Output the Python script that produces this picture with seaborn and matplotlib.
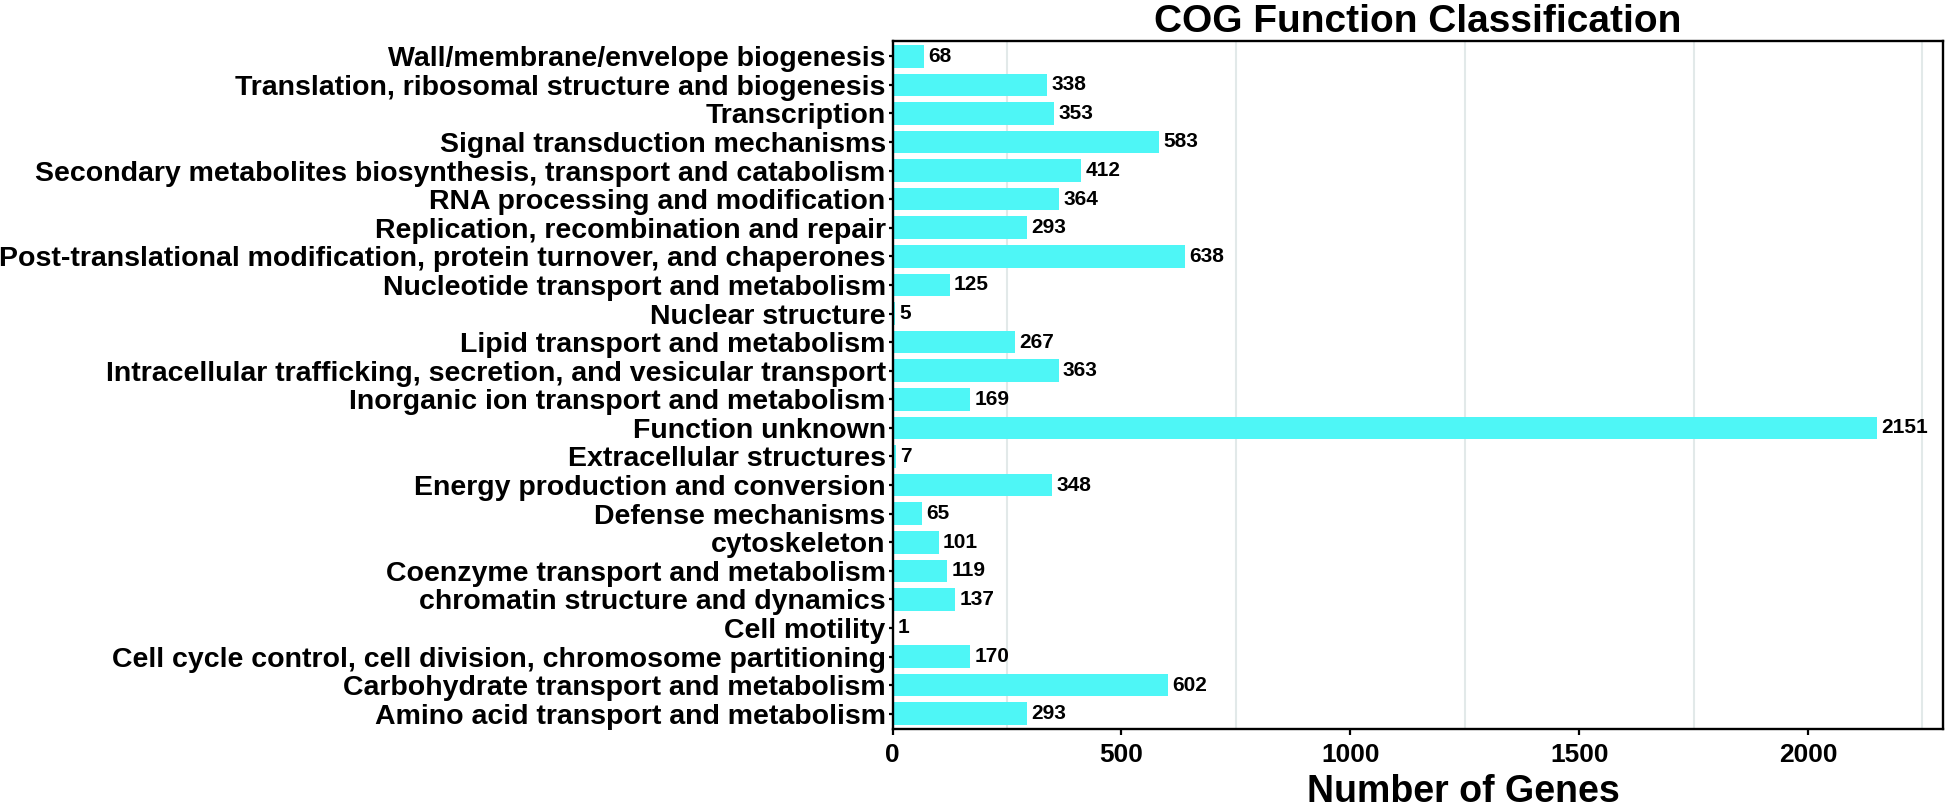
import pandas as pd
import matplotlib.pyplot as plt
import seaborn as sns
from matplotlib.ticker import MultipleLocator

# --- Data (top to bottom as shown) ---
categories = [
    "Wall/membrane/envelope biogenesis",
    "Translation, ribosomal structure and biogenesis",
    "Transcription",
    "Signal transduction mechanisms",
    "Secondary metabolites biosynthesis, transport and catabolism",
    "RNA processing and modification",
    "Replication, recombination and repair",
    "Post-translational modification, protein turnover, and chaperones",
    "Nucleotide transport and metabolism",
    "Nuclear structure",
    "Lipid transport and metabolism",
    "Intracellular trafficking, secretion, and vesicular transport",
    "Inorganic ion transport and metabolism",
    "Function unknown",
    "Extracellular structures",
    "Energy production and conversion",
    "Defense mechanisms",
    "cytoskeleton",
    "Coenzyme transport and metabolism",
    "chromatin structure and dynamics",
    "Cell motility",
    "Cell cycle control, cell division, chromosome partitioning",
    "Carbohydrate transport and metabolism",
    "Amino acid transport and metabolism",
]
gene_counts = [68, 338, 353, 583, 412, 364, 293, 638, 125, 5, 267, 363,
               169, 2151, 7, 348, 65, 101, 119, 137, 1, 170, 602, 293]

BAR_COLOR = "#4EF6F6"
OUTPUT_IMAGE = "out.png"


def main():
    df = pd.DataFrame({"Category": categories, "Genes": gene_counts})

    sns.set_theme(style="white")
    plt.rcParams['font.family'] = ['Liberation Sans', 'DejaVu Sans']
    plt.rcParams['font.weight'] = 'bold'
    plt.rcParams['text.color'] = 'black'
    plt.rcParams['axes.labelcolor'] = 'black'
    plt.rcParams['xtick.color'] = 'black'
    plt.rcParams['ytick.color'] = 'black'

    fig = plt.figure(figsize=(19.46, 8.10), dpi=100)
    ax = fig.add_axes([0.4587, 0.0994, 0.9985 - 0.4587, 0.95 - 0.0994])

    sns.barplot(data=df, x="Genes", y="Category", order=categories,
                color=BAR_COLOR, width=0.79, orient="h", ax=ax,
                saturation=1, edgecolor="none")

    # value labels next to each bar
    ax.bar_label(ax.containers[0], padding=3, fontsize=15, fontweight='bold',
                 color='black')

    ax.set_xlim(0, 2295)
    ax.set_ylim(len(categories) - 1 + 0.55, -0.55)

    # only the in-between gridlines are visible in the original
    ax.xaxis.set_major_locator(MultipleLocator(500))
    ax.grid(False)
    for xv in range(250, 2300, 500):
        ax.axvline(xv, color="#e2e9e9", linewidth=1.5, zorder=0)

    ax.set_title("COG Function Classification", fontsize=28,
                 fontweight='bold', pad=6, color='black')
    ax.set_xlabel("Number of Genes", fontsize=27, fontweight='bold',
                  color='black')
    ax.xaxis.set_label_coords(0.543, -0.0646)
    ax.set_ylabel("")

    ax.tick_params(axis='x', which='major', bottom=True, length=4, width=1.6,
                   labelsize=19, pad=6, color='black', labelcolor='black')
    ax.tick_params(axis='y', left=True, length=3, width=1.6, labelsize=20.5,
                   pad=2, color='black', labelcolor='black')
    for lab in ax.get_xticklabels() + ax.get_yticklabels():
        lab.set_fontweight('bold')

    for sp in ax.spines.values():
        sp.set_visible(True)
        sp.set_color('black')
        sp.set_linewidth(1.7)

    fig.savefig(OUTPUT_IMAGE, dpi=100)


if __name__ == "__main__":
    main()
